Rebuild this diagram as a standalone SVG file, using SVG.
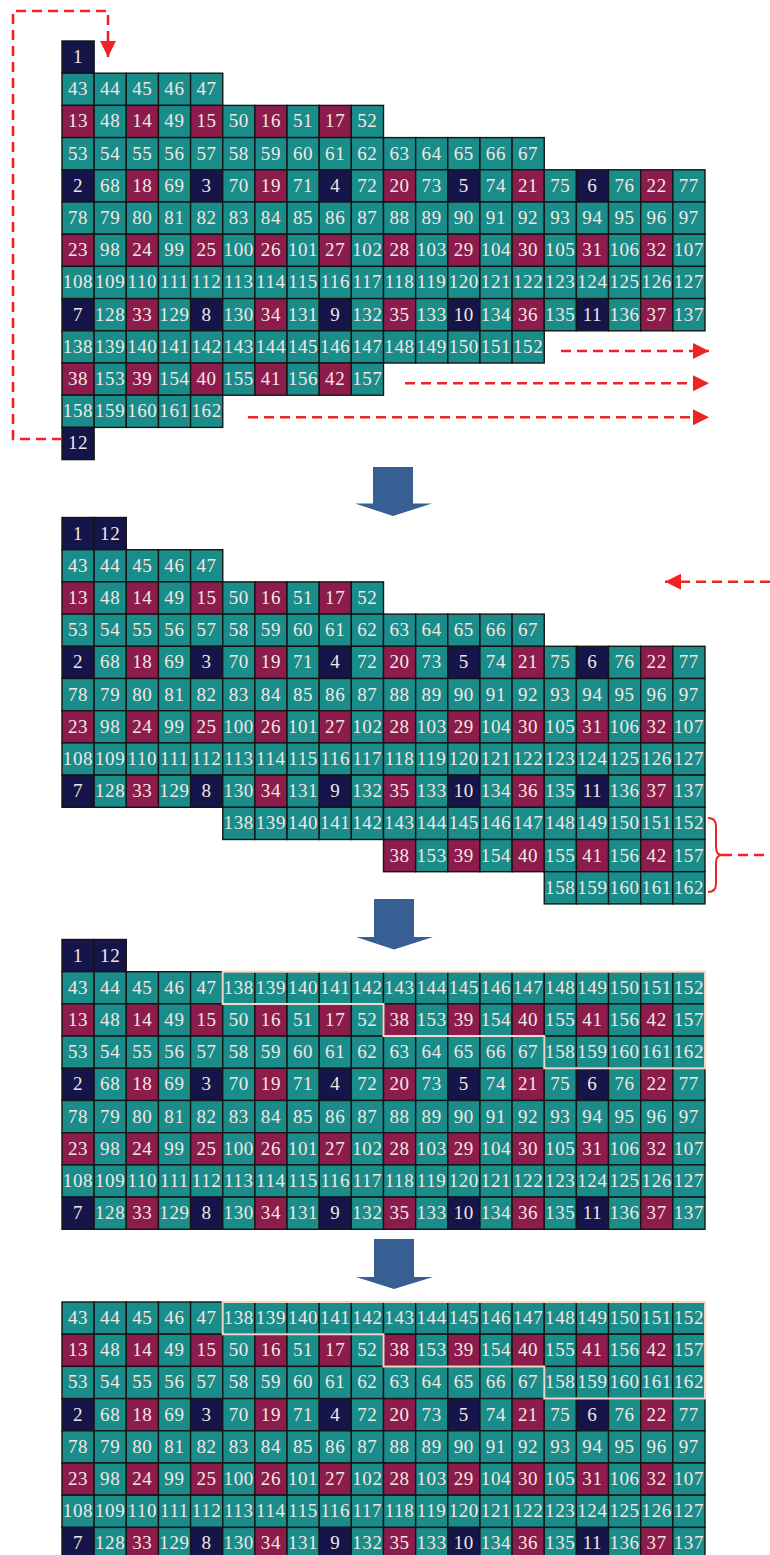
<svg xmlns="http://www.w3.org/2000/svg" xmlns:xlink="http://www.w3.org/1999/xlink" width="770" height="1555" viewBox="0 0 770 1555">
<style>
.t{fill:#1a8d8b;stroke:#151515;stroke-width:1.4}
.m{fill:#8c1c4c;stroke:#151515;stroke-width:1.4}
.n{fill:#16154a;stroke:#151515;stroke-width:1.4}
text{font-family:"Liberation Serif",serif;font-size:19px;letter-spacing:0.6px;text-anchor:middle;fill:#f3e7e3}
.dash{fill:none;stroke:#ee2424;stroke-width:2.6;stroke-dasharray:10 6}
.brace{fill:none;stroke:#ee2424;stroke-width:2}
.blue{fill:#375f93}
.out{fill:none;stroke:#f4d6c4;stroke-width:2}
</style>
<defs>
<rect id="T" class="t" width="32.15" height="32.2"/>
<rect id="M" class="m" width="32.15" height="32.2"/>
<rect id="N" class="n" width="32.15" height="32.2"/>
<marker id="ah" viewBox="0 0 16 16" refX="16" refY="8" markerWidth="16" markerHeight="16" orient="auto" markerUnits="userSpaceOnUse"><path d="M0,0 L16,8 L0,16 z" fill="#ee2424"/></marker>
</defs>

<!-- PANEL 1 -->
<g id="panel1">
<g transform="translate(0,41)">
<g id="p1-1" transform="translate(62)"><use href="#N"/><text x="16" y="22">1</text></g>
</g>
<g transform="translate(0,73.2)">
<g id="p1-43" transform="translate(62)"><use href="#T"/><text x="16" y="22">43</text></g>
<g id="p1-44" transform="translate(94.15)"><use href="#T"/><text x="16" y="22">44</text></g>
<g id="p1-45" transform="translate(126.3)"><use href="#T"/><text x="16" y="22">45</text></g>
<g id="p1-46" transform="translate(158.45)"><use href="#T"/><text x="16" y="22">46</text></g>
<g id="p1-47" transform="translate(190.6)"><use href="#T"/><text x="16" y="22">47</text></g>
</g>
<g transform="translate(0,105.4)">
<g id="p1-13" transform="translate(62)"><use href="#M"/><text x="16" y="22">13</text></g>
<g id="p1-48" transform="translate(94.15)"><use href="#T"/><text x="16" y="22">48</text></g>
<g id="p1-14" transform="translate(126.3)"><use href="#M"/><text x="16" y="22">14</text></g>
<g id="p1-49" transform="translate(158.45)"><use href="#T"/><text x="16" y="22">49</text></g>
<g id="p1-15" transform="translate(190.6)"><use href="#M"/><text x="16" y="22">15</text></g>
<g id="p1-50" transform="translate(222.75)"><use href="#T"/><text x="16" y="22">50</text></g>
<g id="p1-16" transform="translate(254.9)"><use href="#M"/><text x="16" y="22">16</text></g>
<g id="p1-51" transform="translate(287.05)"><use href="#T"/><text x="16" y="22">51</text></g>
<g id="p1-17" transform="translate(319.2)"><use href="#M"/><text x="16" y="22">17</text></g>
<g id="p1-52" transform="translate(351.35)"><use href="#T"/><text x="16" y="22">52</text></g>
</g>
<g transform="translate(0,137.6)">
<g id="p1-53" transform="translate(62)"><use href="#T"/><text x="16" y="22">53</text></g>
<g id="p1-54" transform="translate(94.15)"><use href="#T"/><text x="16" y="22">54</text></g>
<g id="p1-55" transform="translate(126.3)"><use href="#T"/><text x="16" y="22">55</text></g>
<g id="p1-56" transform="translate(158.45)"><use href="#T"/><text x="16" y="22">56</text></g>
<g id="p1-57" transform="translate(190.6)"><use href="#T"/><text x="16" y="22">57</text></g>
<g id="p1-58" transform="translate(222.75)"><use href="#T"/><text x="16" y="22">58</text></g>
<g id="p1-59" transform="translate(254.9)"><use href="#T"/><text x="16" y="22">59</text></g>
<g id="p1-60" transform="translate(287.05)"><use href="#T"/><text x="16" y="22">60</text></g>
<g id="p1-61" transform="translate(319.2)"><use href="#T"/><text x="16" y="22">61</text></g>
<g id="p1-62" transform="translate(351.35)"><use href="#T"/><text x="16" y="22">62</text></g>
<g id="p1-63" transform="translate(383.5)"><use href="#T"/><text x="16" y="22">63</text></g>
<g id="p1-64" transform="translate(415.65)"><use href="#T"/><text x="16" y="22">64</text></g>
<g id="p1-65" transform="translate(447.8)"><use href="#T"/><text x="16" y="22">65</text></g>
<g id="p1-66" transform="translate(479.95)"><use href="#T"/><text x="16" y="22">66</text></g>
<g id="p1-67" transform="translate(512.1)"><use href="#T"/><text x="16" y="22">67</text></g>
</g>
<g transform="translate(0,169.8)">
<g id="p1-2" transform="translate(62)"><use href="#N"/><text x="16" y="22">2</text></g>
<g id="p1-68" transform="translate(94.15)"><use href="#T"/><text x="16" y="22">68</text></g>
<g id="p1-18" transform="translate(126.3)"><use href="#M"/><text x="16" y="22">18</text></g>
<g id="p1-69" transform="translate(158.45)"><use href="#T"/><text x="16" y="22">69</text></g>
<g id="p1-3" transform="translate(190.6)"><use href="#N"/><text x="16" y="22">3</text></g>
<g id="p1-70" transform="translate(222.75)"><use href="#T"/><text x="16" y="22">70</text></g>
<g id="p1-19" transform="translate(254.9)"><use href="#M"/><text x="16" y="22">19</text></g>
<g id="p1-71" transform="translate(287.05)"><use href="#T"/><text x="16" y="22">71</text></g>
<g id="p1-4" transform="translate(319.2)"><use href="#N"/><text x="16" y="22">4</text></g>
<g id="p1-72" transform="translate(351.35)"><use href="#T"/><text x="16" y="22">72</text></g>
<g id="p1-20" transform="translate(383.5)"><use href="#M"/><text x="16" y="22">20</text></g>
<g id="p1-73" transform="translate(415.65)"><use href="#T"/><text x="16" y="22">73</text></g>
<g id="p1-5" transform="translate(447.8)"><use href="#N"/><text x="16" y="22">5</text></g>
<g id="p1-74" transform="translate(479.95)"><use href="#T"/><text x="16" y="22">74</text></g>
<g id="p1-21" transform="translate(512.1)"><use href="#M"/><text x="16" y="22">21</text></g>
<g id="p1-75" transform="translate(544.25)"><use href="#T"/><text x="16" y="22">75</text></g>
<g id="p1-6" transform="translate(576.4)"><use href="#N"/><text x="16" y="22">6</text></g>
<g id="p1-76" transform="translate(608.55)"><use href="#T"/><text x="16" y="22">76</text></g>
<g id="p1-22" transform="translate(640.7)"><use href="#M"/><text x="16" y="22">22</text></g>
<g id="p1-77" transform="translate(672.85)"><use href="#T"/><text x="16" y="22">77</text></g>
</g>
<g transform="translate(0,202)">
<g id="p1-78" transform="translate(62)"><use href="#T"/><text x="16" y="22">78</text></g>
<g id="p1-79" transform="translate(94.15)"><use href="#T"/><text x="16" y="22">79</text></g>
<g id="p1-80" transform="translate(126.3)"><use href="#T"/><text x="16" y="22">80</text></g>
<g id="p1-81" transform="translate(158.45)"><use href="#T"/><text x="16" y="22">81</text></g>
<g id="p1-82" transform="translate(190.6)"><use href="#T"/><text x="16" y="22">82</text></g>
<g id="p1-83" transform="translate(222.75)"><use href="#T"/><text x="16" y="22">83</text></g>
<g id="p1-84" transform="translate(254.9)"><use href="#T"/><text x="16" y="22">84</text></g>
<g id="p1-85" transform="translate(287.05)"><use href="#T"/><text x="16" y="22">85</text></g>
<g id="p1-86" transform="translate(319.2)"><use href="#T"/><text x="16" y="22">86</text></g>
<g id="p1-87" transform="translate(351.35)"><use href="#T"/><text x="16" y="22">87</text></g>
<g id="p1-88" transform="translate(383.5)"><use href="#T"/><text x="16" y="22">88</text></g>
<g id="p1-89" transform="translate(415.65)"><use href="#T"/><text x="16" y="22">89</text></g>
<g id="p1-90" transform="translate(447.8)"><use href="#T"/><text x="16" y="22">90</text></g>
<g id="p1-91" transform="translate(479.95)"><use href="#T"/><text x="16" y="22">91</text></g>
<g id="p1-92" transform="translate(512.1)"><use href="#T"/><text x="16" y="22">92</text></g>
<g id="p1-93" transform="translate(544.25)"><use href="#T"/><text x="16" y="22">93</text></g>
<g id="p1-94" transform="translate(576.4)"><use href="#T"/><text x="16" y="22">94</text></g>
<g id="p1-95" transform="translate(608.55)"><use href="#T"/><text x="16" y="22">95</text></g>
<g id="p1-96" transform="translate(640.7)"><use href="#T"/><text x="16" y="22">96</text></g>
<g id="p1-97" transform="translate(672.85)"><use href="#T"/><text x="16" y="22">97</text></g>
</g>
<g transform="translate(0,234.2)">
<g id="p1-23" transform="translate(62)"><use href="#M"/><text x="16" y="22">23</text></g>
<g id="p1-98" transform="translate(94.15)"><use href="#T"/><text x="16" y="22">98</text></g>
<g id="p1-24" transform="translate(126.3)"><use href="#M"/><text x="16" y="22">24</text></g>
<g id="p1-99" transform="translate(158.45)"><use href="#T"/><text x="16" y="22">99</text></g>
<g id="p1-25" transform="translate(190.6)"><use href="#M"/><text x="16" y="22">25</text></g>
<g id="p1-100" transform="translate(222.75)"><use href="#T"/><text x="16" y="22">100</text></g>
<g id="p1-26" transform="translate(254.9)"><use href="#M"/><text x="16" y="22">26</text></g>
<g id="p1-101" transform="translate(287.05)"><use href="#T"/><text x="16" y="22">101</text></g>
<g id="p1-27" transform="translate(319.2)"><use href="#M"/><text x="16" y="22">27</text></g>
<g id="p1-102" transform="translate(351.35)"><use href="#T"/><text x="16" y="22">102</text></g>
<g id="p1-28" transform="translate(383.5)"><use href="#M"/><text x="16" y="22">28</text></g>
<g id="p1-103" transform="translate(415.65)"><use href="#T"/><text x="16" y="22">103</text></g>
<g id="p1-29" transform="translate(447.8)"><use href="#M"/><text x="16" y="22">29</text></g>
<g id="p1-104" transform="translate(479.95)"><use href="#T"/><text x="16" y="22">104</text></g>
<g id="p1-30" transform="translate(512.1)"><use href="#M"/><text x="16" y="22">30</text></g>
<g id="p1-105" transform="translate(544.25)"><use href="#T"/><text x="16" y="22">105</text></g>
<g id="p1-31" transform="translate(576.4)"><use href="#M"/><text x="16" y="22">31</text></g>
<g id="p1-106" transform="translate(608.55)"><use href="#T"/><text x="16" y="22">106</text></g>
<g id="p1-32" transform="translate(640.7)"><use href="#M"/><text x="16" y="22">32</text></g>
<g id="p1-107" transform="translate(672.85)"><use href="#T"/><text x="16" y="22">107</text></g>
</g>
<g transform="translate(0,266.4)">
<g id="p1-108" transform="translate(62)"><use href="#T"/><text x="16" y="22">108</text></g>
<g id="p1-109" transform="translate(94.15)"><use href="#T"/><text x="16" y="22">109</text></g>
<g id="p1-110" transform="translate(126.3)"><use href="#T"/><text x="16" y="22">110</text></g>
<g id="p1-111" transform="translate(158.45)"><use href="#T"/><text x="16" y="22">111</text></g>
<g id="p1-112" transform="translate(190.6)"><use href="#T"/><text x="16" y="22">112</text></g>
<g id="p1-113" transform="translate(222.75)"><use href="#T"/><text x="16" y="22">113</text></g>
<g id="p1-114" transform="translate(254.9)"><use href="#T"/><text x="16" y="22">114</text></g>
<g id="p1-115" transform="translate(287.05)"><use href="#T"/><text x="16" y="22">115</text></g>
<g id="p1-116" transform="translate(319.2)"><use href="#T"/><text x="16" y="22">116</text></g>
<g id="p1-117" transform="translate(351.35)"><use href="#T"/><text x="16" y="22">117</text></g>
<g id="p1-118" transform="translate(383.5)"><use href="#T"/><text x="16" y="22">118</text></g>
<g id="p1-119" transform="translate(415.65)"><use href="#T"/><text x="16" y="22">119</text></g>
<g id="p1-120" transform="translate(447.8)"><use href="#T"/><text x="16" y="22">120</text></g>
<g id="p1-121" transform="translate(479.95)"><use href="#T"/><text x="16" y="22">121</text></g>
<g id="p1-122" transform="translate(512.1)"><use href="#T"/><text x="16" y="22">122</text></g>
<g id="p1-123" transform="translate(544.25)"><use href="#T"/><text x="16" y="22">123</text></g>
<g id="p1-124" transform="translate(576.4)"><use href="#T"/><text x="16" y="22">124</text></g>
<g id="p1-125" transform="translate(608.55)"><use href="#T"/><text x="16" y="22">125</text></g>
<g id="p1-126" transform="translate(640.7)"><use href="#T"/><text x="16" y="22">126</text></g>
<g id="p1-127" transform="translate(672.85)"><use href="#T"/><text x="16" y="22">127</text></g>
</g>
<g transform="translate(0,298.6)">
<g id="p1-7" transform="translate(62)"><use href="#N"/><text x="16" y="22">7</text></g>
<g id="p1-128" transform="translate(94.15)"><use href="#T"/><text x="16" y="22">128</text></g>
<g id="p1-33" transform="translate(126.3)"><use href="#M"/><text x="16" y="22">33</text></g>
<g id="p1-129" transform="translate(158.45)"><use href="#T"/><text x="16" y="22">129</text></g>
<g id="p1-8" transform="translate(190.6)"><use href="#N"/><text x="16" y="22">8</text></g>
<g id="p1-130" transform="translate(222.75)"><use href="#T"/><text x="16" y="22">130</text></g>
<g id="p1-34" transform="translate(254.9)"><use href="#M"/><text x="16" y="22">34</text></g>
<g id="p1-131" transform="translate(287.05)"><use href="#T"/><text x="16" y="22">131</text></g>
<g id="p1-9" transform="translate(319.2)"><use href="#N"/><text x="16" y="22">9</text></g>
<g id="p1-132" transform="translate(351.35)"><use href="#T"/><text x="16" y="22">132</text></g>
<g id="p1-35" transform="translate(383.5)"><use href="#M"/><text x="16" y="22">35</text></g>
<g id="p1-133" transform="translate(415.65)"><use href="#T"/><text x="16" y="22">133</text></g>
<g id="p1-10" transform="translate(447.8)"><use href="#N"/><text x="16" y="22">10</text></g>
<g id="p1-134" transform="translate(479.95)"><use href="#T"/><text x="16" y="22">134</text></g>
<g id="p1-36" transform="translate(512.1)"><use href="#M"/><text x="16" y="22">36</text></g>
<g id="p1-135" transform="translate(544.25)"><use href="#T"/><text x="16" y="22">135</text></g>
<g id="p1-11" transform="translate(576.4)"><use href="#N"/><text x="16" y="22">11</text></g>
<g id="p1-136" transform="translate(608.55)"><use href="#T"/><text x="16" y="22">136</text></g>
<g id="p1-37" transform="translate(640.7)"><use href="#M"/><text x="16" y="22">37</text></g>
<g id="p1-137" transform="translate(672.85)"><use href="#T"/><text x="16" y="22">137</text></g>
</g>
<g transform="translate(0,330.8)">
<g id="p1-138" transform="translate(62)"><use href="#T"/><text x="16" y="22">138</text></g>
<g id="p1-139" transform="translate(94.15)"><use href="#T"/><text x="16" y="22">139</text></g>
<g id="p1-140" transform="translate(126.3)"><use href="#T"/><text x="16" y="22">140</text></g>
<g id="p1-141" transform="translate(158.45)"><use href="#T"/><text x="16" y="22">141</text></g>
<g id="p1-142" transform="translate(190.6)"><use href="#T"/><text x="16" y="22">142</text></g>
<g id="p1-143" transform="translate(222.75)"><use href="#T"/><text x="16" y="22">143</text></g>
<g id="p1-144" transform="translate(254.9)"><use href="#T"/><text x="16" y="22">144</text></g>
<g id="p1-145" transform="translate(287.05)"><use href="#T"/><text x="16" y="22">145</text></g>
<g id="p1-146" transform="translate(319.2)"><use href="#T"/><text x="16" y="22">146</text></g>
<g id="p1-147" transform="translate(351.35)"><use href="#T"/><text x="16" y="22">147</text></g>
<g id="p1-148" transform="translate(383.5)"><use href="#T"/><text x="16" y="22">148</text></g>
<g id="p1-149" transform="translate(415.65)"><use href="#T"/><text x="16" y="22">149</text></g>
<g id="p1-150" transform="translate(447.8)"><use href="#T"/><text x="16" y="22">150</text></g>
<g id="p1-151" transform="translate(479.95)"><use href="#T"/><text x="16" y="22">151</text></g>
<g id="p1-152" transform="translate(512.1)"><use href="#T"/><text x="16" y="22">152</text></g>
</g>
<g transform="translate(0,363)">
<g id="p1-38" transform="translate(62)"><use href="#M"/><text x="16" y="22">38</text></g>
<g id="p1-153" transform="translate(94.15)"><use href="#T"/><text x="16" y="22">153</text></g>
<g id="p1-39" transform="translate(126.3)"><use href="#M"/><text x="16" y="22">39</text></g>
<g id="p1-154" transform="translate(158.45)"><use href="#T"/><text x="16" y="22">154</text></g>
<g id="p1-40" transform="translate(190.6)"><use href="#M"/><text x="16" y="22">40</text></g>
<g id="p1-155" transform="translate(222.75)"><use href="#T"/><text x="16" y="22">155</text></g>
<g id="p1-41" transform="translate(254.9)"><use href="#M"/><text x="16" y="22">41</text></g>
<g id="p1-156" transform="translate(287.05)"><use href="#T"/><text x="16" y="22">156</text></g>
<g id="p1-42" transform="translate(319.2)"><use href="#M"/><text x="16" y="22">42</text></g>
<g id="p1-157" transform="translate(351.35)"><use href="#T"/><text x="16" y="22">157</text></g>
</g>
<g transform="translate(0,395.2)">
<g id="p1-158" transform="translate(62)"><use href="#T"/><text x="16" y="22">158</text></g>
<g id="p1-159" transform="translate(94.15)"><use href="#T"/><text x="16" y="22">159</text></g>
<g id="p1-160" transform="translate(126.3)"><use href="#T"/><text x="16" y="22">160</text></g>
<g id="p1-161" transform="translate(158.45)"><use href="#T"/><text x="16" y="22">161</text></g>
<g id="p1-162" transform="translate(190.6)"><use href="#T"/><text x="16" y="22">162</text></g>
</g>
<g transform="translate(0,427.4)">
<g id="p1-12" transform="translate(62)"><use href="#N"/><text x="16" y="22">12</text></g>
</g>
</g>

<!-- PANEL 2 -->
<g id="panel2">
<g transform="translate(0,517.5)">
<g id="p2-1" transform="translate(62)"><use href="#N"/><text x="16" y="22">1</text></g>
<g id="p2-12" transform="translate(94.15)"><use href="#N"/><text x="16" y="22">12</text></g>
</g>
<g transform="translate(0,549.7)">
<g id="p2-43" transform="translate(62)"><use href="#T"/><text x="16" y="22">43</text></g>
<g id="p2-44" transform="translate(94.15)"><use href="#T"/><text x="16" y="22">44</text></g>
<g id="p2-45" transform="translate(126.3)"><use href="#T"/><text x="16" y="22">45</text></g>
<g id="p2-46" transform="translate(158.45)"><use href="#T"/><text x="16" y="22">46</text></g>
<g id="p2-47" transform="translate(190.6)"><use href="#T"/><text x="16" y="22">47</text></g>
</g>
<g transform="translate(0,581.9)">
<g id="p2-13" transform="translate(62)"><use href="#M"/><text x="16" y="22">13</text></g>
<g id="p2-48" transform="translate(94.15)"><use href="#T"/><text x="16" y="22">48</text></g>
<g id="p2-14" transform="translate(126.3)"><use href="#M"/><text x="16" y="22">14</text></g>
<g id="p2-49" transform="translate(158.45)"><use href="#T"/><text x="16" y="22">49</text></g>
<g id="p2-15" transform="translate(190.6)"><use href="#M"/><text x="16" y="22">15</text></g>
<g id="p2-50" transform="translate(222.75)"><use href="#T"/><text x="16" y="22">50</text></g>
<g id="p2-16" transform="translate(254.9)"><use href="#M"/><text x="16" y="22">16</text></g>
<g id="p2-51" transform="translate(287.05)"><use href="#T"/><text x="16" y="22">51</text></g>
<g id="p2-17" transform="translate(319.2)"><use href="#M"/><text x="16" y="22">17</text></g>
<g id="p2-52" transform="translate(351.35)"><use href="#T"/><text x="16" y="22">52</text></g>
</g>
<g transform="translate(0,614.1)">
<g id="p2-53" transform="translate(62)"><use href="#T"/><text x="16" y="22">53</text></g>
<g id="p2-54" transform="translate(94.15)"><use href="#T"/><text x="16" y="22">54</text></g>
<g id="p2-55" transform="translate(126.3)"><use href="#T"/><text x="16" y="22">55</text></g>
<g id="p2-56" transform="translate(158.45)"><use href="#T"/><text x="16" y="22">56</text></g>
<g id="p2-57" transform="translate(190.6)"><use href="#T"/><text x="16" y="22">57</text></g>
<g id="p2-58" transform="translate(222.75)"><use href="#T"/><text x="16" y="22">58</text></g>
<g id="p2-59" transform="translate(254.9)"><use href="#T"/><text x="16" y="22">59</text></g>
<g id="p2-60" transform="translate(287.05)"><use href="#T"/><text x="16" y="22">60</text></g>
<g id="p2-61" transform="translate(319.2)"><use href="#T"/><text x="16" y="22">61</text></g>
<g id="p2-62" transform="translate(351.35)"><use href="#T"/><text x="16" y="22">62</text></g>
<g id="p2-63" transform="translate(383.5)"><use href="#T"/><text x="16" y="22">63</text></g>
<g id="p2-64" transform="translate(415.65)"><use href="#T"/><text x="16" y="22">64</text></g>
<g id="p2-65" transform="translate(447.8)"><use href="#T"/><text x="16" y="22">65</text></g>
<g id="p2-66" transform="translate(479.95)"><use href="#T"/><text x="16" y="22">66</text></g>
<g id="p2-67" transform="translate(512.1)"><use href="#T"/><text x="16" y="22">67</text></g>
</g>
<g transform="translate(0,646.3)">
<g id="p2-2" transform="translate(62)"><use href="#N"/><text x="16" y="22">2</text></g>
<g id="p2-68" transform="translate(94.15)"><use href="#T"/><text x="16" y="22">68</text></g>
<g id="p2-18" transform="translate(126.3)"><use href="#M"/><text x="16" y="22">18</text></g>
<g id="p2-69" transform="translate(158.45)"><use href="#T"/><text x="16" y="22">69</text></g>
<g id="p2-3" transform="translate(190.6)"><use href="#N"/><text x="16" y="22">3</text></g>
<g id="p2-70" transform="translate(222.75)"><use href="#T"/><text x="16" y="22">70</text></g>
<g id="p2-19" transform="translate(254.9)"><use href="#M"/><text x="16" y="22">19</text></g>
<g id="p2-71" transform="translate(287.05)"><use href="#T"/><text x="16" y="22">71</text></g>
<g id="p2-4" transform="translate(319.2)"><use href="#N"/><text x="16" y="22">4</text></g>
<g id="p2-72" transform="translate(351.35)"><use href="#T"/><text x="16" y="22">72</text></g>
<g id="p2-20" transform="translate(383.5)"><use href="#M"/><text x="16" y="22">20</text></g>
<g id="p2-73" transform="translate(415.65)"><use href="#T"/><text x="16" y="22">73</text></g>
<g id="p2-5" transform="translate(447.8)"><use href="#N"/><text x="16" y="22">5</text></g>
<g id="p2-74" transform="translate(479.95)"><use href="#T"/><text x="16" y="22">74</text></g>
<g id="p2-21" transform="translate(512.1)"><use href="#M"/><text x="16" y="22">21</text></g>
<g id="p2-75" transform="translate(544.25)"><use href="#T"/><text x="16" y="22">75</text></g>
<g id="p2-6" transform="translate(576.4)"><use href="#N"/><text x="16" y="22">6</text></g>
<g id="p2-76" transform="translate(608.55)"><use href="#T"/><text x="16" y="22">76</text></g>
<g id="p2-22" transform="translate(640.7)"><use href="#M"/><text x="16" y="22">22</text></g>
<g id="p2-77" transform="translate(672.85)"><use href="#T"/><text x="16" y="22">77</text></g>
</g>
<g transform="translate(0,678.5)">
<g id="p2-78" transform="translate(62)"><use href="#T"/><text x="16" y="22">78</text></g>
<g id="p2-79" transform="translate(94.15)"><use href="#T"/><text x="16" y="22">79</text></g>
<g id="p2-80" transform="translate(126.3)"><use href="#T"/><text x="16" y="22">80</text></g>
<g id="p2-81" transform="translate(158.45)"><use href="#T"/><text x="16" y="22">81</text></g>
<g id="p2-82" transform="translate(190.6)"><use href="#T"/><text x="16" y="22">82</text></g>
<g id="p2-83" transform="translate(222.75)"><use href="#T"/><text x="16" y="22">83</text></g>
<g id="p2-84" transform="translate(254.9)"><use href="#T"/><text x="16" y="22">84</text></g>
<g id="p2-85" transform="translate(287.05)"><use href="#T"/><text x="16" y="22">85</text></g>
<g id="p2-86" transform="translate(319.2)"><use href="#T"/><text x="16" y="22">86</text></g>
<g id="p2-87" transform="translate(351.35)"><use href="#T"/><text x="16" y="22">87</text></g>
<g id="p2-88" transform="translate(383.5)"><use href="#T"/><text x="16" y="22">88</text></g>
<g id="p2-89" transform="translate(415.65)"><use href="#T"/><text x="16" y="22">89</text></g>
<g id="p2-90" transform="translate(447.8)"><use href="#T"/><text x="16" y="22">90</text></g>
<g id="p2-91" transform="translate(479.95)"><use href="#T"/><text x="16" y="22">91</text></g>
<g id="p2-92" transform="translate(512.1)"><use href="#T"/><text x="16" y="22">92</text></g>
<g id="p2-93" transform="translate(544.25)"><use href="#T"/><text x="16" y="22">93</text></g>
<g id="p2-94" transform="translate(576.4)"><use href="#T"/><text x="16" y="22">94</text></g>
<g id="p2-95" transform="translate(608.55)"><use href="#T"/><text x="16" y="22">95</text></g>
<g id="p2-96" transform="translate(640.7)"><use href="#T"/><text x="16" y="22">96</text></g>
<g id="p2-97" transform="translate(672.85)"><use href="#T"/><text x="16" y="22">97</text></g>
</g>
<g transform="translate(0,710.7)">
<g id="p2-23" transform="translate(62)"><use href="#M"/><text x="16" y="22">23</text></g>
<g id="p2-98" transform="translate(94.15)"><use href="#T"/><text x="16" y="22">98</text></g>
<g id="p2-24" transform="translate(126.3)"><use href="#M"/><text x="16" y="22">24</text></g>
<g id="p2-99" transform="translate(158.45)"><use href="#T"/><text x="16" y="22">99</text></g>
<g id="p2-25" transform="translate(190.6)"><use href="#M"/><text x="16" y="22">25</text></g>
<g id="p2-100" transform="translate(222.75)"><use href="#T"/><text x="16" y="22">100</text></g>
<g id="p2-26" transform="translate(254.9)"><use href="#M"/><text x="16" y="22">26</text></g>
<g id="p2-101" transform="translate(287.05)"><use href="#T"/><text x="16" y="22">101</text></g>
<g id="p2-27" transform="translate(319.2)"><use href="#M"/><text x="16" y="22">27</text></g>
<g id="p2-102" transform="translate(351.35)"><use href="#T"/><text x="16" y="22">102</text></g>
<g id="p2-28" transform="translate(383.5)"><use href="#M"/><text x="16" y="22">28</text></g>
<g id="p2-103" transform="translate(415.65)"><use href="#T"/><text x="16" y="22">103</text></g>
<g id="p2-29" transform="translate(447.8)"><use href="#M"/><text x="16" y="22">29</text></g>
<g id="p2-104" transform="translate(479.95)"><use href="#T"/><text x="16" y="22">104</text></g>
<g id="p2-30" transform="translate(512.1)"><use href="#M"/><text x="16" y="22">30</text></g>
<g id="p2-105" transform="translate(544.25)"><use href="#T"/><text x="16" y="22">105</text></g>
<g id="p2-31" transform="translate(576.4)"><use href="#M"/><text x="16" y="22">31</text></g>
<g id="p2-106" transform="translate(608.55)"><use href="#T"/><text x="16" y="22">106</text></g>
<g id="p2-32" transform="translate(640.7)"><use href="#M"/><text x="16" y="22">32</text></g>
<g id="p2-107" transform="translate(672.85)"><use href="#T"/><text x="16" y="22">107</text></g>
</g>
<g transform="translate(0,742.9)">
<g id="p2-108" transform="translate(62)"><use href="#T"/><text x="16" y="22">108</text></g>
<g id="p2-109" transform="translate(94.15)"><use href="#T"/><text x="16" y="22">109</text></g>
<g id="p2-110" transform="translate(126.3)"><use href="#T"/><text x="16" y="22">110</text></g>
<g id="p2-111" transform="translate(158.45)"><use href="#T"/><text x="16" y="22">111</text></g>
<g id="p2-112" transform="translate(190.6)"><use href="#T"/><text x="16" y="22">112</text></g>
<g id="p2-113" transform="translate(222.75)"><use href="#T"/><text x="16" y="22">113</text></g>
<g id="p2-114" transform="translate(254.9)"><use href="#T"/><text x="16" y="22">114</text></g>
<g id="p2-115" transform="translate(287.05)"><use href="#T"/><text x="16" y="22">115</text></g>
<g id="p2-116" transform="translate(319.2)"><use href="#T"/><text x="16" y="22">116</text></g>
<g id="p2-117" transform="translate(351.35)"><use href="#T"/><text x="16" y="22">117</text></g>
<g id="p2-118" transform="translate(383.5)"><use href="#T"/><text x="16" y="22">118</text></g>
<g id="p2-119" transform="translate(415.65)"><use href="#T"/><text x="16" y="22">119</text></g>
<g id="p2-120" transform="translate(447.8)"><use href="#T"/><text x="16" y="22">120</text></g>
<g id="p2-121" transform="translate(479.95)"><use href="#T"/><text x="16" y="22">121</text></g>
<g id="p2-122" transform="translate(512.1)"><use href="#T"/><text x="16" y="22">122</text></g>
<g id="p2-123" transform="translate(544.25)"><use href="#T"/><text x="16" y="22">123</text></g>
<g id="p2-124" transform="translate(576.4)"><use href="#T"/><text x="16" y="22">124</text></g>
<g id="p2-125" transform="translate(608.55)"><use href="#T"/><text x="16" y="22">125</text></g>
<g id="p2-126" transform="translate(640.7)"><use href="#T"/><text x="16" y="22">126</text></g>
<g id="p2-127" transform="translate(672.85)"><use href="#T"/><text x="16" y="22">127</text></g>
</g>
<g transform="translate(0,775.1)">
<g id="p2-7" transform="translate(62)"><use href="#N"/><text x="16" y="22">7</text></g>
<g id="p2-128" transform="translate(94.15)"><use href="#T"/><text x="16" y="22">128</text></g>
<g id="p2-33" transform="translate(126.3)"><use href="#M"/><text x="16" y="22">33</text></g>
<g id="p2-129" transform="translate(158.45)"><use href="#T"/><text x="16" y="22">129</text></g>
<g id="p2-8" transform="translate(190.6)"><use href="#N"/><text x="16" y="22">8</text></g>
<g id="p2-130" transform="translate(222.75)"><use href="#T"/><text x="16" y="22">130</text></g>
<g id="p2-34" transform="translate(254.9)"><use href="#M"/><text x="16" y="22">34</text></g>
<g id="p2-131" transform="translate(287.05)"><use href="#T"/><text x="16" y="22">131</text></g>
<g id="p2-9" transform="translate(319.2)"><use href="#N"/><text x="16" y="22">9</text></g>
<g id="p2-132" transform="translate(351.35)"><use href="#T"/><text x="16" y="22">132</text></g>
<g id="p2-35" transform="translate(383.5)"><use href="#M"/><text x="16" y="22">35</text></g>
<g id="p2-133" transform="translate(415.65)"><use href="#T"/><text x="16" y="22">133</text></g>
<g id="p2-10" transform="translate(447.8)"><use href="#N"/><text x="16" y="22">10</text></g>
<g id="p2-134" transform="translate(479.95)"><use href="#T"/><text x="16" y="22">134</text></g>
<g id="p2-36" transform="translate(512.1)"><use href="#M"/><text x="16" y="22">36</text></g>
<g id="p2-135" transform="translate(544.25)"><use href="#T"/><text x="16" y="22">135</text></g>
<g id="p2-11" transform="translate(576.4)"><use href="#N"/><text x="16" y="22">11</text></g>
<g id="p2-136" transform="translate(608.55)"><use href="#T"/><text x="16" y="22">136</text></g>
<g id="p2-37" transform="translate(640.7)"><use href="#M"/><text x="16" y="22">37</text></g>
<g id="p2-137" transform="translate(672.85)"><use href="#T"/><text x="16" y="22">137</text></g>
</g>
<g transform="translate(0,807.3)">
<g id="p2-138" transform="translate(222.75)"><use href="#T"/><text x="16" y="22">138</text></g>
<g id="p2-139" transform="translate(254.9)"><use href="#T"/><text x="16" y="22">139</text></g>
<g id="p2-140" transform="translate(287.05)"><use href="#T"/><text x="16" y="22">140</text></g>
<g id="p2-141" transform="translate(319.2)"><use href="#T"/><text x="16" y="22">141</text></g>
<g id="p2-142" transform="translate(351.35)"><use href="#T"/><text x="16" y="22">142</text></g>
<g id="p2-143" transform="translate(383.5)"><use href="#T"/><text x="16" y="22">143</text></g>
<g id="p2-144" transform="translate(415.65)"><use href="#T"/><text x="16" y="22">144</text></g>
<g id="p2-145" transform="translate(447.8)"><use href="#T"/><text x="16" y="22">145</text></g>
<g id="p2-146" transform="translate(479.95)"><use href="#T"/><text x="16" y="22">146</text></g>
<g id="p2-147" transform="translate(512.1)"><use href="#T"/><text x="16" y="22">147</text></g>
<g id="p2-148" transform="translate(544.25)"><use href="#T"/><text x="16" y="22">148</text></g>
<g id="p2-149" transform="translate(576.4)"><use href="#T"/><text x="16" y="22">149</text></g>
<g id="p2-150" transform="translate(608.55)"><use href="#T"/><text x="16" y="22">150</text></g>
<g id="p2-151" transform="translate(640.7)"><use href="#T"/><text x="16" y="22">151</text></g>
<g id="p2-152" transform="translate(672.85)"><use href="#T"/><text x="16" y="22">152</text></g>
</g>
<g transform="translate(0,839.5)">
<g id="p2-38" transform="translate(383.5)"><use href="#M"/><text x="16" y="22">38</text></g>
<g id="p2-153" transform="translate(415.65)"><use href="#T"/><text x="16" y="22">153</text></g>
<g id="p2-39" transform="translate(447.8)"><use href="#M"/><text x="16" y="22">39</text></g>
<g id="p2-154" transform="translate(479.95)"><use href="#T"/><text x="16" y="22">154</text></g>
<g id="p2-40" transform="translate(512.1)"><use href="#M"/><text x="16" y="22">40</text></g>
<g id="p2-155" transform="translate(544.25)"><use href="#T"/><text x="16" y="22">155</text></g>
<g id="p2-41" transform="translate(576.4)"><use href="#M"/><text x="16" y="22">41</text></g>
<g id="p2-156" transform="translate(608.55)"><use href="#T"/><text x="16" y="22">156</text></g>
<g id="p2-42" transform="translate(640.7)"><use href="#M"/><text x="16" y="22">42</text></g>
<g id="p2-157" transform="translate(672.85)"><use href="#T"/><text x="16" y="22">157</text></g>
</g>
<g transform="translate(0,871.7)">
<g id="p2-158" transform="translate(544.25)"><use href="#T"/><text x="16" y="22">158</text></g>
<g id="p2-159" transform="translate(576.4)"><use href="#T"/><text x="16" y="22">159</text></g>
<g id="p2-160" transform="translate(608.55)"><use href="#T"/><text x="16" y="22">160</text></g>
<g id="p2-161" transform="translate(640.7)"><use href="#T"/><text x="16" y="22">161</text></g>
<g id="p2-162" transform="translate(672.85)"><use href="#T"/><text x="16" y="22">162</text></g>
</g>
</g>

<!-- PANEL 3 -->
<g id="panel3">
<g transform="translate(0,939.5)">
<g id="p3-1" transform="translate(62)"><use href="#N"/><text x="16" y="22">1</text></g>
<g id="p3-12" transform="translate(94.15)"><use href="#N"/><text x="16" y="22">12</text></g>
</g>
<g transform="translate(0,971.7)">
<g id="p3-43" transform="translate(62)"><use href="#T"/><text x="16" y="22">43</text></g>
<g id="p3-44" transform="translate(94.15)"><use href="#T"/><text x="16" y="22">44</text></g>
<g id="p3-45" transform="translate(126.3)"><use href="#T"/><text x="16" y="22">45</text></g>
<g id="p3-46" transform="translate(158.45)"><use href="#T"/><text x="16" y="22">46</text></g>
<g id="p3-47" transform="translate(190.6)"><use href="#T"/><text x="16" y="22">47</text></g>
<g id="p3-138" transform="translate(222.75)"><use href="#T"/><text x="16" y="22">138</text></g>
<g id="p3-139" transform="translate(254.9)"><use href="#T"/><text x="16" y="22">139</text></g>
<g id="p3-140" transform="translate(287.05)"><use href="#T"/><text x="16" y="22">140</text></g>
<g id="p3-141" transform="translate(319.2)"><use href="#T"/><text x="16" y="22">141</text></g>
<g id="p3-142" transform="translate(351.35)"><use href="#T"/><text x="16" y="22">142</text></g>
<g id="p3-143" transform="translate(383.5)"><use href="#T"/><text x="16" y="22">143</text></g>
<g id="p3-144" transform="translate(415.65)"><use href="#T"/><text x="16" y="22">144</text></g>
<g id="p3-145" transform="translate(447.8)"><use href="#T"/><text x="16" y="22">145</text></g>
<g id="p3-146" transform="translate(479.95)"><use href="#T"/><text x="16" y="22">146</text></g>
<g id="p3-147" transform="translate(512.1)"><use href="#T"/><text x="16" y="22">147</text></g>
<g id="p3-148" transform="translate(544.25)"><use href="#T"/><text x="16" y="22">148</text></g>
<g id="p3-149" transform="translate(576.4)"><use href="#T"/><text x="16" y="22">149</text></g>
<g id="p3-150" transform="translate(608.55)"><use href="#T"/><text x="16" y="22">150</text></g>
<g id="p3-151" transform="translate(640.7)"><use href="#T"/><text x="16" y="22">151</text></g>
<g id="p3-152" transform="translate(672.85)"><use href="#T"/><text x="16" y="22">152</text></g>
</g>
<g transform="translate(0,1003.9)">
<g id="p3-13" transform="translate(62)"><use href="#M"/><text x="16" y="22">13</text></g>
<g id="p3-48" transform="translate(94.15)"><use href="#T"/><text x="16" y="22">48</text></g>
<g id="p3-14" transform="translate(126.3)"><use href="#M"/><text x="16" y="22">14</text></g>
<g id="p3-49" transform="translate(158.45)"><use href="#T"/><text x="16" y="22">49</text></g>
<g id="p3-15" transform="translate(190.6)"><use href="#M"/><text x="16" y="22">15</text></g>
<g id="p3-50" transform="translate(222.75)"><use href="#T"/><text x="16" y="22">50</text></g>
<g id="p3-16" transform="translate(254.9)"><use href="#M"/><text x="16" y="22">16</text></g>
<g id="p3-51" transform="translate(287.05)"><use href="#T"/><text x="16" y="22">51</text></g>
<g id="p3-17" transform="translate(319.2)"><use href="#M"/><text x="16" y="22">17</text></g>
<g id="p3-52" transform="translate(351.35)"><use href="#T"/><text x="16" y="22">52</text></g>
<g id="p3-38" transform="translate(383.5)"><use href="#M"/><text x="16" y="22">38</text></g>
<g id="p3-153" transform="translate(415.65)"><use href="#T"/><text x="16" y="22">153</text></g>
<g id="p3-39" transform="translate(447.8)"><use href="#M"/><text x="16" y="22">39</text></g>
<g id="p3-154" transform="translate(479.95)"><use href="#T"/><text x="16" y="22">154</text></g>
<g id="p3-40" transform="translate(512.1)"><use href="#M"/><text x="16" y="22">40</text></g>
<g id="p3-155" transform="translate(544.25)"><use href="#T"/><text x="16" y="22">155</text></g>
<g id="p3-41" transform="translate(576.4)"><use href="#M"/><text x="16" y="22">41</text></g>
<g id="p3-156" transform="translate(608.55)"><use href="#T"/><text x="16" y="22">156</text></g>
<g id="p3-42" transform="translate(640.7)"><use href="#M"/><text x="16" y="22">42</text></g>
<g id="p3-157" transform="translate(672.85)"><use href="#T"/><text x="16" y="22">157</text></g>
</g>
<g transform="translate(0,1036.1)">
<g id="p3-53" transform="translate(62)"><use href="#T"/><text x="16" y="22">53</text></g>
<g id="p3-54" transform="translate(94.15)"><use href="#T"/><text x="16" y="22">54</text></g>
<g id="p3-55" transform="translate(126.3)"><use href="#T"/><text x="16" y="22">55</text></g>
<g id="p3-56" transform="translate(158.45)"><use href="#T"/><text x="16" y="22">56</text></g>
<g id="p3-57" transform="translate(190.6)"><use href="#T"/><text x="16" y="22">57</text></g>
<g id="p3-58" transform="translate(222.75)"><use href="#T"/><text x="16" y="22">58</text></g>
<g id="p3-59" transform="translate(254.9)"><use href="#T"/><text x="16" y="22">59</text></g>
<g id="p3-60" transform="translate(287.05)"><use href="#T"/><text x="16" y="22">60</text></g>
<g id="p3-61" transform="translate(319.2)"><use href="#T"/><text x="16" y="22">61</text></g>
<g id="p3-62" transform="translate(351.35)"><use href="#T"/><text x="16" y="22">62</text></g>
<g id="p3-63" transform="translate(383.5)"><use href="#T"/><text x="16" y="22">63</text></g>
<g id="p3-64" transform="translate(415.65)"><use href="#T"/><text x="16" y="22">64</text></g>
<g id="p3-65" transform="translate(447.8)"><use href="#T"/><text x="16" y="22">65</text></g>
<g id="p3-66" transform="translate(479.95)"><use href="#T"/><text x="16" y="22">66</text></g>
<g id="p3-67" transform="translate(512.1)"><use href="#T"/><text x="16" y="22">67</text></g>
<g id="p3-158" transform="translate(544.25)"><use href="#T"/><text x="16" y="22">158</text></g>
<g id="p3-159" transform="translate(576.4)"><use href="#T"/><text x="16" y="22">159</text></g>
<g id="p3-160" transform="translate(608.55)"><use href="#T"/><text x="16" y="22">160</text></g>
<g id="p3-161" transform="translate(640.7)"><use href="#T"/><text x="16" y="22">161</text></g>
<g id="p3-162" transform="translate(672.85)"><use href="#T"/><text x="16" y="22">162</text></g>
</g>
<g transform="translate(0,1068.3)">
<g id="p3-2" transform="translate(62)"><use href="#N"/><text x="16" y="22">2</text></g>
<g id="p3-68" transform="translate(94.15)"><use href="#T"/><text x="16" y="22">68</text></g>
<g id="p3-18" transform="translate(126.3)"><use href="#M"/><text x="16" y="22">18</text></g>
<g id="p3-69" transform="translate(158.45)"><use href="#T"/><text x="16" y="22">69</text></g>
<g id="p3-3" transform="translate(190.6)"><use href="#N"/><text x="16" y="22">3</text></g>
<g id="p3-70" transform="translate(222.75)"><use href="#T"/><text x="16" y="22">70</text></g>
<g id="p3-19" transform="translate(254.9)"><use href="#M"/><text x="16" y="22">19</text></g>
<g id="p3-71" transform="translate(287.05)"><use href="#T"/><text x="16" y="22">71</text></g>
<g id="p3-4" transform="translate(319.2)"><use href="#N"/><text x="16" y="22">4</text></g>
<g id="p3-72" transform="translate(351.35)"><use href="#T"/><text x="16" y="22">72</text></g>
<g id="p3-20" transform="translate(383.5)"><use href="#M"/><text x="16" y="22">20</text></g>
<g id="p3-73" transform="translate(415.65)"><use href="#T"/><text x="16" y="22">73</text></g>
<g id="p3-5" transform="translate(447.8)"><use href="#N"/><text x="16" y="22">5</text></g>
<g id="p3-74" transform="translate(479.95)"><use href="#T"/><text x="16" y="22">74</text></g>
<g id="p3-21" transform="translate(512.1)"><use href="#M"/><text x="16" y="22">21</text></g>
<g id="p3-75" transform="translate(544.25)"><use href="#T"/><text x="16" y="22">75</text></g>
<g id="p3-6" transform="translate(576.4)"><use href="#N"/><text x="16" y="22">6</text></g>
<g id="p3-76" transform="translate(608.55)"><use href="#T"/><text x="16" y="22">76</text></g>
<g id="p3-22" transform="translate(640.7)"><use href="#M"/><text x="16" y="22">22</text></g>
<g id="p3-77" transform="translate(672.85)"><use href="#T"/><text x="16" y="22">77</text></g>
</g>
<g transform="translate(0,1100.5)">
<g id="p3-78" transform="translate(62)"><use href="#T"/><text x="16" y="22">78</text></g>
<g id="p3-79" transform="translate(94.15)"><use href="#T"/><text x="16" y="22">79</text></g>
<g id="p3-80" transform="translate(126.3)"><use href="#T"/><text x="16" y="22">80</text></g>
<g id="p3-81" transform="translate(158.45)"><use href="#T"/><text x="16" y="22">81</text></g>
<g id="p3-82" transform="translate(190.6)"><use href="#T"/><text x="16" y="22">82</text></g>
<g id="p3-83" transform="translate(222.75)"><use href="#T"/><text x="16" y="22">83</text></g>
<g id="p3-84" transform="translate(254.9)"><use href="#T"/><text x="16" y="22">84</text></g>
<g id="p3-85" transform="translate(287.05)"><use href="#T"/><text x="16" y="22">85</text></g>
<g id="p3-86" transform="translate(319.2)"><use href="#T"/><text x="16" y="22">86</text></g>
<g id="p3-87" transform="translate(351.35)"><use href="#T"/><text x="16" y="22">87</text></g>
<g id="p3-88" transform="translate(383.5)"><use href="#T"/><text x="16" y="22">88</text></g>
<g id="p3-89" transform="translate(415.65)"><use href="#T"/><text x="16" y="22">89</text></g>
<g id="p3-90" transform="translate(447.8)"><use href="#T"/><text x="16" y="22">90</text></g>
<g id="p3-91" transform="translate(479.95)"><use href="#T"/><text x="16" y="22">91</text></g>
<g id="p3-92" transform="translate(512.1)"><use href="#T"/><text x="16" y="22">92</text></g>
<g id="p3-93" transform="translate(544.25)"><use href="#T"/><text x="16" y="22">93</text></g>
<g id="p3-94" transform="translate(576.4)"><use href="#T"/><text x="16" y="22">94</text></g>
<g id="p3-95" transform="translate(608.55)"><use href="#T"/><text x="16" y="22">95</text></g>
<g id="p3-96" transform="translate(640.7)"><use href="#T"/><text x="16" y="22">96</text></g>
<g id="p3-97" transform="translate(672.85)"><use href="#T"/><text x="16" y="22">97</text></g>
</g>
<g transform="translate(0,1132.7)">
<g id="p3-23" transform="translate(62)"><use href="#M"/><text x="16" y="22">23</text></g>
<g id="p3-98" transform="translate(94.15)"><use href="#T"/><text x="16" y="22">98</text></g>
<g id="p3-24" transform="translate(126.3)"><use href="#M"/><text x="16" y="22">24</text></g>
<g id="p3-99" transform="translate(158.45)"><use href="#T"/><text x="16" y="22">99</text></g>
<g id="p3-25" transform="translate(190.6)"><use href="#M"/><text x="16" y="22">25</text></g>
<g id="p3-100" transform="translate(222.75)"><use href="#T"/><text x="16" y="22">100</text></g>
<g id="p3-26" transform="translate(254.9)"><use href="#M"/><text x="16" y="22">26</text></g>
<g id="p3-101" transform="translate(287.05)"><use href="#T"/><text x="16" y="22">101</text></g>
<g id="p3-27" transform="translate(319.2)"><use href="#M"/><text x="16" y="22">27</text></g>
<g id="p3-102" transform="translate(351.35)"><use href="#T"/><text x="16" y="22">102</text></g>
<g id="p3-28" transform="translate(383.5)"><use href="#M"/><text x="16" y="22">28</text></g>
<g id="p3-103" transform="translate(415.65)"><use href="#T"/><text x="16" y="22">103</text></g>
<g id="p3-29" transform="translate(447.8)"><use href="#M"/><text x="16" y="22">29</text></g>
<g id="p3-104" transform="translate(479.95)"><use href="#T"/><text x="16" y="22">104</text></g>
<g id="p3-30" transform="translate(512.1)"><use href="#M"/><text x="16" y="22">30</text></g>
<g id="p3-105" transform="translate(544.25)"><use href="#T"/><text x="16" y="22">105</text></g>
<g id="p3-31" transform="translate(576.4)"><use href="#M"/><text x="16" y="22">31</text></g>
<g id="p3-106" transform="translate(608.55)"><use href="#T"/><text x="16" y="22">106</text></g>
<g id="p3-32" transform="translate(640.7)"><use href="#M"/><text x="16" y="22">32</text></g>
<g id="p3-107" transform="translate(672.85)"><use href="#T"/><text x="16" y="22">107</text></g>
</g>
<g transform="translate(0,1164.9)">
<g id="p3-108" transform="translate(62)"><use href="#T"/><text x="16" y="22">108</text></g>
<g id="p3-109" transform="translate(94.15)"><use href="#T"/><text x="16" y="22">109</text></g>
<g id="p3-110" transform="translate(126.3)"><use href="#T"/><text x="16" y="22">110</text></g>
<g id="p3-111" transform="translate(158.45)"><use href="#T"/><text x="16" y="22">111</text></g>
<g id="p3-112" transform="translate(190.6)"><use href="#T"/><text x="16" y="22">112</text></g>
<g id="p3-113" transform="translate(222.75)"><use href="#T"/><text x="16" y="22">113</text></g>
<g id="p3-114" transform="translate(254.9)"><use href="#T"/><text x="16" y="22">114</text></g>
<g id="p3-115" transform="translate(287.05)"><use href="#T"/><text x="16" y="22">115</text></g>
<g id="p3-116" transform="translate(319.2)"><use href="#T"/><text x="16" y="22">116</text></g>
<g id="p3-117" transform="translate(351.35)"><use href="#T"/><text x="16" y="22">117</text></g>
<g id="p3-118" transform="translate(383.5)"><use href="#T"/><text x="16" y="22">118</text></g>
<g id="p3-119" transform="translate(415.65)"><use href="#T"/><text x="16" y="22">119</text></g>
<g id="p3-120" transform="translate(447.8)"><use href="#T"/><text x="16" y="22">120</text></g>
<g id="p3-121" transform="translate(479.95)"><use href="#T"/><text x="16" y="22">121</text></g>
<g id="p3-122" transform="translate(512.1)"><use href="#T"/><text x="16" y="22">122</text></g>
<g id="p3-123" transform="translate(544.25)"><use href="#T"/><text x="16" y="22">123</text></g>
<g id="p3-124" transform="translate(576.4)"><use href="#T"/><text x="16" y="22">124</text></g>
<g id="p3-125" transform="translate(608.55)"><use href="#T"/><text x="16" y="22">125</text></g>
<g id="p3-126" transform="translate(640.7)"><use href="#T"/><text x="16" y="22">126</text></g>
<g id="p3-127" transform="translate(672.85)"><use href="#T"/><text x="16" y="22">127</text></g>
</g>
<g transform="translate(0,1197.1)">
<g id="p3-7" transform="translate(62)"><use href="#N"/><text x="16" y="22">7</text></g>
<g id="p3-128" transform="translate(94.15)"><use href="#T"/><text x="16" y="22">128</text></g>
<g id="p3-33" transform="translate(126.3)"><use href="#M"/><text x="16" y="22">33</text></g>
<g id="p3-129" transform="translate(158.45)"><use href="#T"/><text x="16" y="22">129</text></g>
<g id="p3-8" transform="translate(190.6)"><use href="#N"/><text x="16" y="22">8</text></g>
<g id="p3-130" transform="translate(222.75)"><use href="#T"/><text x="16" y="22">130</text></g>
<g id="p3-34" transform="translate(254.9)"><use href="#M"/><text x="16" y="22">34</text></g>
<g id="p3-131" transform="translate(287.05)"><use href="#T"/><text x="16" y="22">131</text></g>
<g id="p3-9" transform="translate(319.2)"><use href="#N"/><text x="16" y="22">9</text></g>
<g id="p3-132" transform="translate(351.35)"><use href="#T"/><text x="16" y="22">132</text></g>
<g id="p3-35" transform="translate(383.5)"><use href="#M"/><text x="16" y="22">35</text></g>
<g id="p3-133" transform="translate(415.65)"><use href="#T"/><text x="16" y="22">133</text></g>
<g id="p3-10" transform="translate(447.8)"><use href="#N"/><text x="16" y="22">10</text></g>
<g id="p3-134" transform="translate(479.95)"><use href="#T"/><text x="16" y="22">134</text></g>
<g id="p3-36" transform="translate(512.1)"><use href="#M"/><text x="16" y="22">36</text></g>
<g id="p3-135" transform="translate(544.25)"><use href="#T"/><text x="16" y="22">135</text></g>
<g id="p3-11" transform="translate(576.4)"><use href="#N"/><text x="16" y="22">11</text></g>
<g id="p3-136" transform="translate(608.55)"><use href="#T"/><text x="16" y="22">136</text></g>
<g id="p3-37" transform="translate(640.7)"><use href="#M"/><text x="16" y="22">37</text></g>
<g id="p3-137" transform="translate(672.85)"><use href="#T"/><text x="16" y="22">137</text></g>
</g>
<path class="out" d="M222.75,971.7 H705 V1068.3 H544.25 V1036.1 H383.5 V1003.9 H222.75 Z"/>
</g>

<!-- PANEL 4 -->
<g id="panel4">
<g transform="translate(0,1302)">
<g id="p4-43" transform="translate(62)"><use href="#T"/><text x="16" y="22">43</text></g>
<g id="p4-44" transform="translate(94.15)"><use href="#T"/><text x="16" y="22">44</text></g>
<g id="p4-45" transform="translate(126.3)"><use href="#T"/><text x="16" y="22">45</text></g>
<g id="p4-46" transform="translate(158.45)"><use href="#T"/><text x="16" y="22">46</text></g>
<g id="p4-47" transform="translate(190.6)"><use href="#T"/><text x="16" y="22">47</text></g>
<g id="p4-138" transform="translate(222.75)"><use href="#T"/><text x="16" y="22">138</text></g>
<g id="p4-139" transform="translate(254.9)"><use href="#T"/><text x="16" y="22">139</text></g>
<g id="p4-140" transform="translate(287.05)"><use href="#T"/><text x="16" y="22">140</text></g>
<g id="p4-141" transform="translate(319.2)"><use href="#T"/><text x="16" y="22">141</text></g>
<g id="p4-142" transform="translate(351.35)"><use href="#T"/><text x="16" y="22">142</text></g>
<g id="p4-143" transform="translate(383.5)"><use href="#T"/><text x="16" y="22">143</text></g>
<g id="p4-144" transform="translate(415.65)"><use href="#T"/><text x="16" y="22">144</text></g>
<g id="p4-145" transform="translate(447.8)"><use href="#T"/><text x="16" y="22">145</text></g>
<g id="p4-146" transform="translate(479.95)"><use href="#T"/><text x="16" y="22">146</text></g>
<g id="p4-147" transform="translate(512.1)"><use href="#T"/><text x="16" y="22">147</text></g>
<g id="p4-148" transform="translate(544.25)"><use href="#T"/><text x="16" y="22">148</text></g>
<g id="p4-149" transform="translate(576.4)"><use href="#T"/><text x="16" y="22">149</text></g>
<g id="p4-150" transform="translate(608.55)"><use href="#T"/><text x="16" y="22">150</text></g>
<g id="p4-151" transform="translate(640.7)"><use href="#T"/><text x="16" y="22">151</text></g>
<g id="p4-152" transform="translate(672.85)"><use href="#T"/><text x="16" y="22">152</text></g>
</g>
<g transform="translate(0,1334.2)">
<g id="p4-13" transform="translate(62)"><use href="#M"/><text x="16" y="22">13</text></g>
<g id="p4-48" transform="translate(94.15)"><use href="#T"/><text x="16" y="22">48</text></g>
<g id="p4-14" transform="translate(126.3)"><use href="#M"/><text x="16" y="22">14</text></g>
<g id="p4-49" transform="translate(158.45)"><use href="#T"/><text x="16" y="22">49</text></g>
<g id="p4-15" transform="translate(190.6)"><use href="#M"/><text x="16" y="22">15</text></g>
<g id="p4-50" transform="translate(222.75)"><use href="#T"/><text x="16" y="22">50</text></g>
<g id="p4-16" transform="translate(254.9)"><use href="#M"/><text x="16" y="22">16</text></g>
<g id="p4-51" transform="translate(287.05)"><use href="#T"/><text x="16" y="22">51</text></g>
<g id="p4-17" transform="translate(319.2)"><use href="#M"/><text x="16" y="22">17</text></g>
<g id="p4-52" transform="translate(351.35)"><use href="#T"/><text x="16" y="22">52</text></g>
<g id="p4-38" transform="translate(383.5)"><use href="#M"/><text x="16" y="22">38</text></g>
<g id="p4-153" transform="translate(415.65)"><use href="#T"/><text x="16" y="22">153</text></g>
<g id="p4-39" transform="translate(447.8)"><use href="#M"/><text x="16" y="22">39</text></g>
<g id="p4-154" transform="translate(479.95)"><use href="#T"/><text x="16" y="22">154</text></g>
<g id="p4-40" transform="translate(512.1)"><use href="#M"/><text x="16" y="22">40</text></g>
<g id="p4-155" transform="translate(544.25)"><use href="#T"/><text x="16" y="22">155</text></g>
<g id="p4-41" transform="translate(576.4)"><use href="#M"/><text x="16" y="22">41</text></g>
<g id="p4-156" transform="translate(608.55)"><use href="#T"/><text x="16" y="22">156</text></g>
<g id="p4-42" transform="translate(640.7)"><use href="#M"/><text x="16" y="22">42</text></g>
<g id="p4-157" transform="translate(672.85)"><use href="#T"/><text x="16" y="22">157</text></g>
</g>
<g transform="translate(0,1366.4)">
<g id="p4-53" transform="translate(62)"><use href="#T"/><text x="16" y="22">53</text></g>
<g id="p4-54" transform="translate(94.15)"><use href="#T"/><text x="16" y="22">54</text></g>
<g id="p4-55" transform="translate(126.3)"><use href="#T"/><text x="16" y="22">55</text></g>
<g id="p4-56" transform="translate(158.45)"><use href="#T"/><text x="16" y="22">56</text></g>
<g id="p4-57" transform="translate(190.6)"><use href="#T"/><text x="16" y="22">57</text></g>
<g id="p4-58" transform="translate(222.75)"><use href="#T"/><text x="16" y="22">58</text></g>
<g id="p4-59" transform="translate(254.9)"><use href="#T"/><text x="16" y="22">59</text></g>
<g id="p4-60" transform="translate(287.05)"><use href="#T"/><text x="16" y="22">60</text></g>
<g id="p4-61" transform="translate(319.2)"><use href="#T"/><text x="16" y="22">61</text></g>
<g id="p4-62" transform="translate(351.35)"><use href="#T"/><text x="16" y="22">62</text></g>
<g id="p4-63" transform="translate(383.5)"><use href="#T"/><text x="16" y="22">63</text></g>
<g id="p4-64" transform="translate(415.65)"><use href="#T"/><text x="16" y="22">64</text></g>
<g id="p4-65" transform="translate(447.8)"><use href="#T"/><text x="16" y="22">65</text></g>
<g id="p4-66" transform="translate(479.95)"><use href="#T"/><text x="16" y="22">66</text></g>
<g id="p4-67" transform="translate(512.1)"><use href="#T"/><text x="16" y="22">67</text></g>
<g id="p4-158" transform="translate(544.25)"><use href="#T"/><text x="16" y="22">158</text></g>
<g id="p4-159" transform="translate(576.4)"><use href="#T"/><text x="16" y="22">159</text></g>
<g id="p4-160" transform="translate(608.55)"><use href="#T"/><text x="16" y="22">160</text></g>
<g id="p4-161" transform="translate(640.7)"><use href="#T"/><text x="16" y="22">161</text></g>
<g id="p4-162" transform="translate(672.85)"><use href="#T"/><text x="16" y="22">162</text></g>
</g>
<g transform="translate(0,1398.6)">
<g id="p4-2" transform="translate(62)"><use href="#N"/><text x="16" y="22">2</text></g>
<g id="p4-68" transform="translate(94.15)"><use href="#T"/><text x="16" y="22">68</text></g>
<g id="p4-18" transform="translate(126.3)"><use href="#M"/><text x="16" y="22">18</text></g>
<g id="p4-69" transform="translate(158.45)"><use href="#T"/><text x="16" y="22">69</text></g>
<g id="p4-3" transform="translate(190.6)"><use href="#N"/><text x="16" y="22">3</text></g>
<g id="p4-70" transform="translate(222.75)"><use href="#T"/><text x="16" y="22">70</text></g>
<g id="p4-19" transform="translate(254.9)"><use href="#M"/><text x="16" y="22">19</text></g>
<g id="p4-71" transform="translate(287.05)"><use href="#T"/><text x="16" y="22">71</text></g>
<g id="p4-4" transform="translate(319.2)"><use href="#N"/><text x="16" y="22">4</text></g>
<g id="p4-72" transform="translate(351.35)"><use href="#T"/><text x="16" y="22">72</text></g>
<g id="p4-20" transform="translate(383.5)"><use href="#M"/><text x="16" y="22">20</text></g>
<g id="p4-73" transform="translate(415.65)"><use href="#T"/><text x="16" y="22">73</text></g>
<g id="p4-5" transform="translate(447.8)"><use href="#N"/><text x="16" y="22">5</text></g>
<g id="p4-74" transform="translate(479.95)"><use href="#T"/><text x="16" y="22">74</text></g>
<g id="p4-21" transform="translate(512.1)"><use href="#M"/><text x="16" y="22">21</text></g>
<g id="p4-75" transform="translate(544.25)"><use href="#T"/><text x="16" y="22">75</text></g>
<g id="p4-6" transform="translate(576.4)"><use href="#N"/><text x="16" y="22">6</text></g>
<g id="p4-76" transform="translate(608.55)"><use href="#T"/><text x="16" y="22">76</text></g>
<g id="p4-22" transform="translate(640.7)"><use href="#M"/><text x="16" y="22">22</text></g>
<g id="p4-77" transform="translate(672.85)"><use href="#T"/><text x="16" y="22">77</text></g>
</g>
<g transform="translate(0,1430.8)">
<g id="p4-78" transform="translate(62)"><use href="#T"/><text x="16" y="22">78</text></g>
<g id="p4-79" transform="translate(94.15)"><use href="#T"/><text x="16" y="22">79</text></g>
<g id="p4-80" transform="translate(126.3)"><use href="#T"/><text x="16" y="22">80</text></g>
<g id="p4-81" transform="translate(158.45)"><use href="#T"/><text x="16" y="22">81</text></g>
<g id="p4-82" transform="translate(190.6)"><use href="#T"/><text x="16" y="22">82</text></g>
<g id="p4-83" transform="translate(222.75)"><use href="#T"/><text x="16" y="22">83</text></g>
<g id="p4-84" transform="translate(254.9)"><use href="#T"/><text x="16" y="22">84</text></g>
<g id="p4-85" transform="translate(287.05)"><use href="#T"/><text x="16" y="22">85</text></g>
<g id="p4-86" transform="translate(319.2)"><use href="#T"/><text x="16" y="22">86</text></g>
<g id="p4-87" transform="translate(351.35)"><use href="#T"/><text x="16" y="22">87</text></g>
<g id="p4-88" transform="translate(383.5)"><use href="#T"/><text x="16" y="22">88</text></g>
<g id="p4-89" transform="translate(415.65)"><use href="#T"/><text x="16" y="22">89</text></g>
<g id="p4-90" transform="translate(447.8)"><use href="#T"/><text x="16" y="22">90</text></g>
<g id="p4-91" transform="translate(479.95)"><use href="#T"/><text x="16" y="22">91</text></g>
<g id="p4-92" transform="translate(512.1)"><use href="#T"/><text x="16" y="22">92</text></g>
<g id="p4-93" transform="translate(544.25)"><use href="#T"/><text x="16" y="22">93</text></g>
<g id="p4-94" transform="translate(576.4)"><use href="#T"/><text x="16" y="22">94</text></g>
<g id="p4-95" transform="translate(608.55)"><use href="#T"/><text x="16" y="22">95</text></g>
<g id="p4-96" transform="translate(640.7)"><use href="#T"/><text x="16" y="22">96</text></g>
<g id="p4-97" transform="translate(672.85)"><use href="#T"/><text x="16" y="22">97</text></g>
</g>
<g transform="translate(0,1463)">
<g id="p4-23" transform="translate(62)"><use href="#M"/><text x="16" y="22">23</text></g>
<g id="p4-98" transform="translate(94.15)"><use href="#T"/><text x="16" y="22">98</text></g>
<g id="p4-24" transform="translate(126.3)"><use href="#M"/><text x="16" y="22">24</text></g>
<g id="p4-99" transform="translate(158.45)"><use href="#T"/><text x="16" y="22">99</text></g>
<g id="p4-25" transform="translate(190.6)"><use href="#M"/><text x="16" y="22">25</text></g>
<g id="p4-100" transform="translate(222.75)"><use href="#T"/><text x="16" y="22">100</text></g>
<g id="p4-26" transform="translate(254.9)"><use href="#M"/><text x="16" y="22">26</text></g>
<g id="p4-101" transform="translate(287.05)"><use href="#T"/><text x="16" y="22">101</text></g>
<g id="p4-27" transform="translate(319.2)"><use href="#M"/><text x="16" y="22">27</text></g>
<g id="p4-102" transform="translate(351.35)"><use href="#T"/><text x="16" y="22">102</text></g>
<g id="p4-28" transform="translate(383.5)"><use href="#M"/><text x="16" y="22">28</text></g>
<g id="p4-103" transform="translate(415.65)"><use href="#T"/><text x="16" y="22">103</text></g>
<g id="p4-29" transform="translate(447.8)"><use href="#M"/><text x="16" y="22">29</text></g>
<g id="p4-104" transform="translate(479.95)"><use href="#T"/><text x="16" y="22">104</text></g>
<g id="p4-30" transform="translate(512.1)"><use href="#M"/><text x="16" y="22">30</text></g>
<g id="p4-105" transform="translate(544.25)"><use href="#T"/><text x="16" y="22">105</text></g>
<g id="p4-31" transform="translate(576.4)"><use href="#M"/><text x="16" y="22">31</text></g>
<g id="p4-106" transform="translate(608.55)"><use href="#T"/><text x="16" y="22">106</text></g>
<g id="p4-32" transform="translate(640.7)"><use href="#M"/><text x="16" y="22">32</text></g>
<g id="p4-107" transform="translate(672.85)"><use href="#T"/><text x="16" y="22">107</text></g>
</g>
<g transform="translate(0,1495.2)">
<g id="p4-108" transform="translate(62)"><use href="#T"/><text x="16" y="22">108</text></g>
<g id="p4-109" transform="translate(94.15)"><use href="#T"/><text x="16" y="22">109</text></g>
<g id="p4-110" transform="translate(126.3)"><use href="#T"/><text x="16" y="22">110</text></g>
<g id="p4-111" transform="translate(158.45)"><use href="#T"/><text x="16" y="22">111</text></g>
<g id="p4-112" transform="translate(190.6)"><use href="#T"/><text x="16" y="22">112</text></g>
<g id="p4-113" transform="translate(222.75)"><use href="#T"/><text x="16" y="22">113</text></g>
<g id="p4-114" transform="translate(254.9)"><use href="#T"/><text x="16" y="22">114</text></g>
<g id="p4-115" transform="translate(287.05)"><use href="#T"/><text x="16" y="22">115</text></g>
<g id="p4-116" transform="translate(319.2)"><use href="#T"/><text x="16" y="22">116</text></g>
<g id="p4-117" transform="translate(351.35)"><use href="#T"/><text x="16" y="22">117</text></g>
<g id="p4-118" transform="translate(383.5)"><use href="#T"/><text x="16" y="22">118</text></g>
<g id="p4-119" transform="translate(415.65)"><use href="#T"/><text x="16" y="22">119</text></g>
<g id="p4-120" transform="translate(447.8)"><use href="#T"/><text x="16" y="22">120</text></g>
<g id="p4-121" transform="translate(479.95)"><use href="#T"/><text x="16" y="22">121</text></g>
<g id="p4-122" transform="translate(512.1)"><use href="#T"/><text x="16" y="22">122</text></g>
<g id="p4-123" transform="translate(544.25)"><use href="#T"/><text x="16" y="22">123</text></g>
<g id="p4-124" transform="translate(576.4)"><use href="#T"/><text x="16" y="22">124</text></g>
<g id="p4-125" transform="translate(608.55)"><use href="#T"/><text x="16" y="22">125</text></g>
<g id="p4-126" transform="translate(640.7)"><use href="#T"/><text x="16" y="22">126</text></g>
<g id="p4-127" transform="translate(672.85)"><use href="#T"/><text x="16" y="22">127</text></g>
</g>
<g transform="translate(0,1527.4)">
<g id="p4-7" transform="translate(62)"><use href="#N"/><text x="16" y="22">7</text></g>
<g id="p4-128" transform="translate(94.15)"><use href="#T"/><text x="16" y="22">128</text></g>
<g id="p4-33" transform="translate(126.3)"><use href="#M"/><text x="16" y="22">33</text></g>
<g id="p4-129" transform="translate(158.45)"><use href="#T"/><text x="16" y="22">129</text></g>
<g id="p4-8" transform="translate(190.6)"><use href="#N"/><text x="16" y="22">8</text></g>
<g id="p4-130" transform="translate(222.75)"><use href="#T"/><text x="16" y="22">130</text></g>
<g id="p4-34" transform="translate(254.9)"><use href="#M"/><text x="16" y="22">34</text></g>
<g id="p4-131" transform="translate(287.05)"><use href="#T"/><text x="16" y="22">131</text></g>
<g id="p4-9" transform="translate(319.2)"><use href="#N"/><text x="16" y="22">9</text></g>
<g id="p4-132" transform="translate(351.35)"><use href="#T"/><text x="16" y="22">132</text></g>
<g id="p4-35" transform="translate(383.5)"><use href="#M"/><text x="16" y="22">35</text></g>
<g id="p4-133" transform="translate(415.65)"><use href="#T"/><text x="16" y="22">133</text></g>
<g id="p4-10" transform="translate(447.8)"><use href="#N"/><text x="16" y="22">10</text></g>
<g id="p4-134" transform="translate(479.95)"><use href="#T"/><text x="16" y="22">134</text></g>
<g id="p4-36" transform="translate(512.1)"><use href="#M"/><text x="16" y="22">36</text></g>
<g id="p4-135" transform="translate(544.25)"><use href="#T"/><text x="16" y="22">135</text></g>
<g id="p4-11" transform="translate(576.4)"><use href="#N"/><text x="16" y="22">11</text></g>
<g id="p4-136" transform="translate(608.55)"><use href="#T"/><text x="16" y="22">136</text></g>
<g id="p4-37" transform="translate(640.7)"><use href="#M"/><text x="16" y="22">37</text></g>
<g id="p4-137" transform="translate(672.85)"><use href="#T"/><text x="16" y="22">137</text></g>
</g>
<path class="out" d="M222.75,1302 H705 V1398.6 H544.25 V1366.4 H383.5 V1334.2 H222.75 Z"/>
</g>

<!-- CONNECTORS -->
<g id="connectors">
<path class="dash" d="M62,439 H13 V11 H108 V57" marker-end="url(#ah)"/>
<path class="dash" d="M561,351 H709" marker-end="url(#ah)"/>
<path class="dash" d="M405,383.3 H709" marker-end="url(#ah)"/>
<path class="dash" d="M248,417.3 H709" marker-end="url(#ah)"/>
<path class="dash" d="M770,581.7 H665" marker-end="url(#ah)"/>
<path class="brace" d="M708,818 Q716,818 716,826 V847 Q716,855 722,855 Q716,855 716,863 V884 Q716,892 708,892"/>
<path class="dash" d="M722,855 H770"/>
<polygon class="blue" points="373,467 413,467 413,503.5 432,503.5 393,516 355,503.5 373,503.5"/>
<polygon class="blue" points="374,899 414,899 414,937 433,937 394,949.5 356,937 374,937"/>
<polygon class="blue" points="374,1239 414,1239 414,1277 433,1277 394,1289 356,1277 374,1277"/>
</g>
</svg>
